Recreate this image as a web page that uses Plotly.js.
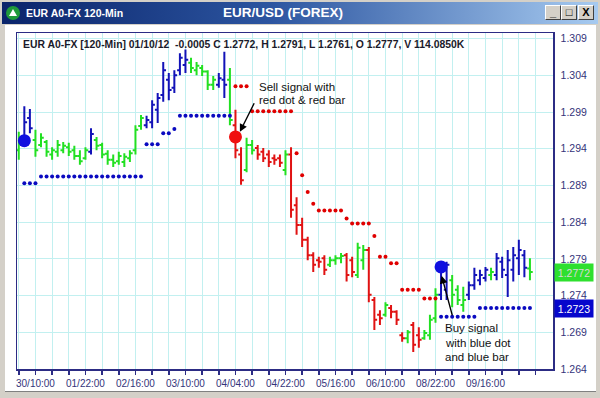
<!DOCTYPE html>
<html>
<head>
<meta charset="utf-8">
<script src="https://cdn.plot.ly/plotly-3.0.1.min.js"></script>
<style>
  html,body{margin:0;padding:0;background:#fff;}
  #win{position:relative;width:600px;height:398px;background:#fff;overflow:hidden;font-family:'Liberation Sans',Arial,sans-serif;}
  .abs{position:absolute;}
  .btn{position:absolute;top:5px;width:14px;height:13px;background:#d4d0c8;border-top:1px solid #fff;border-left:1px solid #fff;border-right:1px solid #404040;border-bottom:1px solid #404040;font:bold 11px 'Liberation Sans',Arial,sans-serif;color:#000;text-align:center;line-height:13px;}
</style>
</head>
<body>
<div id="win">
  <div class="abs" style="left:0;top:0;width:600px;height:398px;background:#d4d0c8;"></div>
  <div class="abs" style="left:5px;top:25px;width:591px;height:366px;background:#fff;"></div>
  <div class="abs" style="left:2px;top:2px;width:596px;height:22px;background:linear-gradient(to right,#0a246a 0%,#2c55a0 45%,#a6caf0 100%);"></div>
  <div class="abs" style="left:6px;top:6px;width:14px;height:14px;border-radius:7px;background:#1f9a3a;"></div>
  <div class="abs" style="left:9px;top:9px;width:0;height:0;border-left:4px solid transparent;border-right:4px solid transparent;border-bottom:7px solid #fff;"></div>
  <div class="abs" style="left:26px;top:6px;color:#fff;font-weight:bold;font-size:10.5px;line-height:14px;">EUR A0-FX 120-Min</div>
  <div class="abs" style="left:180px;width:206px;top:4px;text-align:center;color:#fff;font-weight:bold;font-size:13.5px;line-height:18px;">EUR/USD (FOREX)</div>
  <div class="btn" style="left:545px;">_</div>
  <div class="btn" style="left:561px;">&#9633;</div>
  <div class="btn" style="left:578px;">X</div>
  <div class="abs" style="left:5px;top:391px;width:591px;height:1px;background:#808080;"></div>
  <div id="chart" class="abs" style="left:0;top:0;width:600px;height:398px;"></div>
</div>
<script>
const N = null;
// bar signal colour: G neutral, B buy, R sell
const barColor = "GBBGGGGGGGGGGBGGGGGGGGGBBBBBBBBGGGGGBBGRRGGRRRRRGRRRRRRRGGGRRGGRRRGRRRGRRGGGBBGGGBBBBGBBBBBBG".split('');
const opens = [1.2938,1.2957,1.2982,1.2952,1.2945,1.2949,1.2932,1.2936,1.2938,1.2942,
 1.2938,1.2930,1.2927,1.2936,1.2952,1.2945,1.2933,1.2925,1.2923,1.2922,
 1.2927,1.2938,1.2971,1.2972,1.2976,1.2993,1.3013,1.3034,1.3023,1.3047,
 1.3054,1.3057,1.3047,1.3050,1.3045,1.3027,1.3027,1.3034,1.3034,1.2972,
 1.2932,1.2911,1.2945,1.2941,1.2936,1.2932,1.2927,1.2927,1.2911,1.2932,
 1.2863,1.2836,1.2816,1.2795,1.2788,1.2791,1.2782,1.2788,1.2791,1.2795,
 1.2788,1.2768,1.2788,1.2802,1.2734,1.2714,1.2714,1.2723,1.2718,1.2686,
 1.2682,1.2700,1.2686,1.2682,1.2686,1.2709,1.2741,1.2748,1.2761,1.2748,
 1.2727,1.2741,1.2754,1.2761,1.2764,1.2768,1.2768,1.2786,1.2768,1.2775,
 1.2791,1.2795,1.2777];
const highs = [1.2963,1.2998,1.2994,1.2966,1.2961,1.2952,1.2942,1.2952,1.2949,1.2948,
 1.2944,1.2938,1.2942,1.2968,1.2956,1.2948,1.2938,1.2932,1.2936,1.2934,
 1.2938,1.2972,1.2986,1.2985,1.3006,1.3016,1.3058,1.3043,1.3047,1.3070,
 1.3075,1.3064,1.3058,1.3054,1.3047,1.3039,1.3043,1.3072,1.3050,1.2993,
 1.2942,1.2955,1.2952,1.2945,1.2941,1.2938,1.2932,1.2932,1.2938,1.2942,
 1.2874,1.2846,1.2820,1.2799,1.2793,1.2795,1.2793,1.2795,1.2798,1.2798,
 1.2793,1.2812,1.2809,1.2806,1.2738,1.2720,1.2731,1.2727,1.2720,1.2690,
 1.2693,1.2704,1.2697,1.2693,1.2714,1.2750,1.2771,1.2786,1.2768,1.2754,
 1.2752,1.2759,1.2778,1.2775,1.2779,1.2778,1.2798,1.2793,1.2802,1.2806,
 1.2816,1.2802,1.2791];
const lows = [1.2925,1.2952,1.2961,1.2929,1.2942,1.2929,1.2925,1.2929,1.2934,1.2930,
 1.2925,1.2918,1.2925,1.2932,1.2938,1.2927,1.2918,1.2915,1.2918,1.2915,
 1.2922,1.2932,1.2966,1.2968,1.2968,1.2975,1.3004,1.3006,1.3016,1.3040,
 1.3043,1.3043,1.3040,1.3039,1.3020,1.3020,1.3023,1.3009,1.2972,1.2927,
 1.2891,1.2908,1.2932,1.2925,1.2922,1.2915,1.2918,1.2915,1.2904,1.2846,
 1.2823,1.2806,1.2788,1.2772,1.2778,1.2768,1.2779,1.2782,1.2784,1.2759,
 1.2765,1.2764,1.2775,1.2731,1.2693,1.2700,1.2711,1.2709,1.2700,1.2677,
 1.2675,1.2663,1.2669,1.2680,1.2680,1.2703,1.2734,1.2734,1.2724,1.2727,
 1.2718,1.2734,1.2748,1.2754,1.2759,1.2761,1.2761,1.2764,1.2738,1.2759,
 1.2768,1.2765,1.2761];
const closes = [1.2952,1.2976,1.2968,1.2938,1.2955,1.2936,1.2938,1.2945,1.2944,1.2936,
 1.2930,1.2923,1.2938,1.2960,1.2944,1.2932,1.2925,1.2921,1.2930,1.2929,
 1.2934,1.2966,1.2982,1.2979,1.3000,1.3009,1.3047,1.3020,1.3040,1.3064,
 1.3061,1.3050,1.3053,1.3045,1.3027,1.3034,1.3036,1.3027,1.2979,1.2938,
 1.2897,1.2945,1.2938,1.2932,1.2927,1.2922,1.2925,1.2921,1.2932,1.2857,
 1.2836,1.2816,1.2795,1.2782,1.2786,1.2775,1.2788,1.2791,1.2794,1.2768,
 1.2772,1.2805,1.2802,1.2741,1.2707,1.2709,1.2727,1.2718,1.2707,1.2682,
 1.2690,1.2673,1.2680,1.2689,1.2707,1.2741,1.2761,1.2782,1.2741,1.2734,
 1.2734,1.2754,1.2768,1.2768,1.2775,1.2772,1.2791,1.2775,1.2788,1.2795,
 1.2802,1.2778,1.2772];
const blueStop = [N,1.2893,1.2893,1.2893,
 1.2902,1.2902,1.2902,1.2902,1.2902,1.2902,1.2902,1.2902,1.2902,1.2902,
 1.2902,1.2902,1.2902,1.2902,1.2902,1.2902,1.2902,1.2902,1.2902,
 1.2946,1.2946,1.2946,1.2961,1.2961,1.2967,
 1.2985,1.2985,1.2985,1.2985,1.2985,1.2985,1.2985,1.2985,1.2985,1.2985,
 N,N,N,N,N,N,N,N,N,N,N,N,N,N,N,N,N,N,N,N,N,N,N,N,N,N,N,N,N,N,N,N,N,N,N,N,N,
 1.2711,1.2711,1.2711,1.2711,1.2711,1.2711,1.2711,
 1.2723,1.2723,1.2723,1.2723,1.2723,1.2723,1.2723,1.2723,1.2723,1.2723];
const redStop = [N,N,N,N,N,N,N,N,N,N,N,N,N,N,N,N,N,N,N,N,N,N,N,N,N,N,N,N,N,N,N,N,N,N,N,N,N,N,N,
 1.3025,1.3025,1.3025,
 1.2991,1.2991,1.2991,1.2991,1.2991,1.2991,1.2991,1.2991,
 1.2934,1.2904,1.2881,1.2865,
 1.2856,1.2856,1.2856,1.2856,1.2856,
 1.2845,1.2838,1.2838,1.2838,1.2838,1.2821,
 1.2793,1.2793,1.2784,1.2784,
 1.2748,1.2748,1.2748,1.2748,
 1.2736,1.2736,1.2736,
 N,N,N,N,N,N,N,N,N,N,N,N,N,N,N,N,N];
const buySignalIdx = [1, 76];
const buySignalPrice = [1.2951, 1.2779];
const sellSignalIdx = [39];
const sellSignalPrice = [1.2956];
const timeLabelIdx = [3,12,21,30,39,48,57,66,75,84];
const timeLabels = ['30/10:00','01/22:00','02/16:00','03/10:00','04/04:00','04/22:00','05/16:00','06/10:00','08/22:00','09/16:00'];
const priceTicks = [1.264,1.269,1.274,1.279,1.284,1.289,1.294,1.299,1.304,1.309];
const priceTickText = ['1.264','1.269','1.274','1.279','1.284','1.289','1.294','1.299','1.304','1.309'];
const lastChange = '-0.0005', lastVolume = '114.0850K', lastDate = '01/10/12';

const barIdx = opens.map((_, i) => i);
const NAVY = '#2c2c84';
const TXT = '#34347a';
const COL = {G:'#22e022', B:'#1212b8', R:'#e01212'};

function ohlcTrace(code){
  const idx = barIdx.filter(i => barColor[i] === code);
  return {type:'ohlc', x: idx, open: idx.map(i=>opens[i]), high: idx.map(i=>highs[i]),
    low: idx.map(i=>lows[i]), close: idx.map(i=>closes[i]), tickwidth: 0.5,
    increasing:{line:{color:COL[code], width:2}}, decreasing:{line:{color:COL[code], width:2}},
    hoverinfo:'skip', showlegend:false};
}

const traces = [
  {type:'scatter', mode:'markers', x: barIdx, y: blueStop, marker:{size:4, color:'#0a0ac0'}, hoverinfo:'skip', showlegend:false},
  {type:'scatter', mode:'markers', x: barIdx, y: redStop, marker:{size:4, color:'#e00000'}, hoverinfo:'skip', showlegend:false},
  ohlcTrace('G'), ohlcTrace('B'), ohlcTrace('R'),
  {type:'scatter', mode:'markers', x: buySignalIdx, y: buySignalPrice, marker:{size:13, color:'#1010e0'}, hoverinfo:'skip', showlegend:false},
  {type:'scatter', mode:'markers', x: sellSignalIdx, y: sellSignalPrice, marker:{size:13, color:'#f01010'}, hoverinfo:'skip', showlegend:false}
];

// tick marks every 3 bars, labels every 9
const tickVals = [], tickText = [];
for (let t = 0; t <= 93; t += 3) {
  tickVals.push(t);
  const k = timeLabelIdx.indexOf(t);
  tickText.push(k >= 0 ? timeLabels[k] : '');
}

const last = opens.length - 1;
const header = 'EUR A0-FX [120-Min] ' + lastDate + '\u00A0\u00A0' + lastChange +
  ' C ' + closes[last].toFixed(4) + ', H ' + highs[last].toFixed(4) + ', L ' + lows[last].toFixed(4) +
  ', O ' + opens[last].toFixed(4) + ', V ' + lastVolume;

const FONT = "'Liberation Sans', Arial, sans-serif";
const noteFont = {family: FONT, size: 11.5, color: '#111'};
function note(x, y, text){ return {x, y, xref:'x', yref:'y', text, showarrow:false, xanchor:'left', yanchor:'middle', font: noteFont}; }
function arrow(x, y, ax, ay){ return {x, y, ax, ay, xref:'x', yref:'y', axref:'x', ayref:'y', text:'', showarrow:true,
  arrowhead:2, arrowsize:1.1, arrowwidth:1.4, arrowcolor:'#000', standoff:0, startstandoff:0}; }

const layout = {
  width: 600, height: 398,
  margin: {l:17, r:47, t:33, b:29, pad:0},
  paper_bgcolor: 'rgba(0,0,0,0)', plot_bgcolor: '#ffffff',
  showlegend: false, dragmode: false, hovermode: false,
  font: {family: FONT, color: TXT},
  xaxis: {range: [-0.32, 96.15], tickmode:'array', tickvals: tickVals, ticktext: tickText,
    showgrid: true, gridcolor: '#c2f0f0', gridwidth: 1, zeroline: false,
    ticks: 'outside', ticklen: 4, tickwidth: 1.5, tickcolor: NAVY,
    showline: true, linecolor: NAVY, linewidth: 1.5, mirror: true,
    tickfont: {family: FONT, size: 10, color: TXT}, rangeslider: {visible: false}, fixedrange: true},
  yaxis: {range: [1.264, 1.30976], side: 'right', tickmode:'array', tickvals: priceTicks, ticktext: priceTickText,
    showgrid: true, gridcolor: '#c2f0f0', gridwidth: 1, zeroline: false, ticks: '',
    showline: true, linecolor: NAVY, linewidth: 1.5, mirror: true, ticklabelstandoff: 4,
    tickfont: {family: FONT, size: 10.5, color: TXT}, fixedrange: true},
  annotations: [
    {xref:'paper', yref:'paper', x: 0.0069, y: 0.9643, xanchor:'left', yanchor:'middle', showarrow:false,
      text: header, font: {family: FONT, size: 10.4, color: '#1a1a2a', weight: 'bold'}},
    note(42.8, 1.30245, 'Sell signal with'),
    note(42.8, 1.30064, 'red dot & red bar'),
    note(76.4, 1.26954, 'Buy signal'),
    note(76.4, 1.26758, 'with blue dot'),
    note(76.4, 1.26568, 'and blue bar'),
    arrow(39.8, 1.2963, 42.5, 1.3004),
    arrow(76.1, 1.2767, 78.1, 1.2711),
    {xref:'paper', yref:'y', x: 1, y: closes[last], xanchor:'left', yanchor:'middle', xshift: 1, showarrow:false,
      text: closes[last].toFixed(4), bgcolor:'#2ee02e', width: 36, height: 15, borderpad: 1,
      font: {family: FONT, size: 10.5, color: '#d8d8d8'}},
    {xref:'paper', yref:'y', x: 1, y: blueStop[last], xanchor:'left', yanchor:'middle', xshift: 1, showarrow:false,
      text: blueStop[last].toFixed(4), bgcolor:'#0606cc', width: 36, height: 15, borderpad: 1,
      font: {family: FONT, size: 10.5, color: '#ffffff'}}
  ]
};

Plotly.newPlot('chart', traces, layout, {staticPlot: true, displayModeBar: false});
</script>
</body>
</html>
